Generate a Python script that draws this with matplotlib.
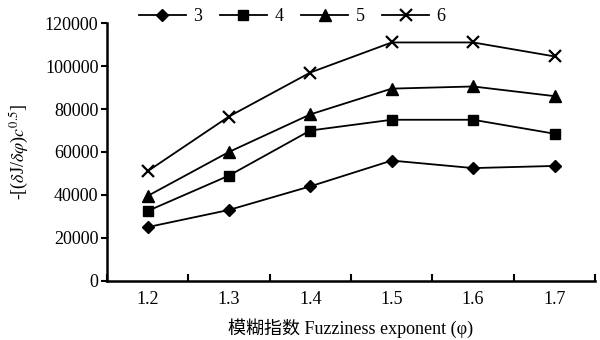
import numpy as np
import matplotlib
matplotlib.use('Agg')
import matplotlib.pyplot as plt

plt.rcParams['font.family'] = ['Liberation Serif', 'Noto Sans CJK SC']
plt.rcParams['mathtext.fontset'] = 'stix'

categories = ['1.2', '1.3', '1.4', '1.5', '1.6', '1.7']
series_names = ['3', '4', '5', '6']
s3 = [25000, 33000, 44000, 56000, 52500, 53500]
s4 = [32500, 49000, 70000, 75000, 75000, 68500]
s5 = [39500, 60000, 77500, 89500, 90500, 86000]
s6 = [51000, 76500, 97000, 111000, 111000, 104500]
yticks = [0, 20000, 40000, 60000, 80000, 100000, 120000]


def main():
    fig = plt.figure(figsize=(6, 3.4), dpi=100)
    ax = fig.add_axes([0.178, 0.174, 0.814, 0.758])
    x = np.arange(len(categories))
    markers = ['D', 's', '^', 'x']
    sizes = [6.5, 7, 8, 9]
    for vals, name, m, ms in zip([s3, s4, s5, s6], series_names, markers, sizes):
        ax.plot(x, vals, color='black', lw=1.3, marker=m, ms=ms,
                mew=1.6 if m == 'x' else 1, label=name)

    ax.set_xlim(-0.5, len(categories) - 0.5)
    ax.set_ylim(0, 120000)
    ax.set_xticks(x)
    ax.set_xticklabels(categories, fontsize=13)
    ax.set_xticks(np.arange(-0.5, len(categories)), minor=True)
    ax.tick_params(axis='x', which='major', length=0, pad=7)
    ax.tick_params(axis='x', which='minor', direction='in', length=5, width=1.5)
    ax.set_yticks(yticks)
    ax.set_yticklabels([str(v) for v in yticks], fontsize=13)
    ax.tick_params(axis='y', direction='out', length=4, width=1.5, pad=2)
    for side in ['top', 'right']:
        ax.spines[side].set_visible(False)
    for side in ['left', 'bottom']:
        ax.spines[side].set_linewidth(1.8)

    ax.set_xlabel('模糊指数 Fuzziness exponent (φ)', fontsize=13, labelpad=8)
    ax.set_ylabel('-[($\\delta$J/$\\delta\\varphi$)$c^{0.5}$]', fontsize=13, labelpad=10)

    fig.legend(loc='center', bbox_to_anchor=(0.487, 0.952), ncol=4, frameon=False,
               fontsize=13, handlelength=2.6, columnspacing=1.0, handletextpad=0.4)
    fig.savefig('out.png', dpi=100)


if __name__ == '__main__':
    main()
